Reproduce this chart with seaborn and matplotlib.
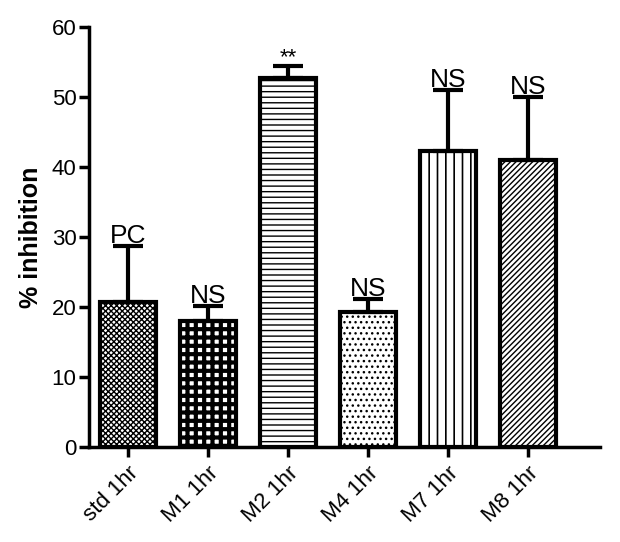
import pandas as pd
import numpy as np
import seaborn as sns
import matplotlib.pyplot as plt

groups = ['std 1hr', 'M1 1hr', 'M2 1hr', 'M4 1hr', 'M7 1hr', 'M8 1hr']
inhibition = [20.7, 18.0, 52.7, 19.3, 42.3, 41.0]
sem = [8.0, 2.2, 1.8, 1.9, 8.7, 9.0]
sig_labels = ['PC', 'NS', '**', 'NS', 'NS', 'NS']
hatches = ['xxxxxx', '++', '---', '...', '||', '//////']
hatch_widths = [1.0, 3.0, 1.0, 1.0, 1.2, 1.0]

df = pd.DataFrame({'group': groups, 'inhibition': inhibition})

sns.set_style('ticks', {'axes.edgecolor': 'black', 'text.color': 'black',
                        'xtick.color': 'black', 'ytick.color': 'black',
                        'axes.labelcolor': 'black'})
plt.rcParams['font.family'] = ['Liberation Sans', 'DejaVu Sans']
plt.rcParams['hatch.linewidth'] = 1.0

fig, ax = plt.subplots(figsize=(6.2, 5.42), dpi=100)
fig.subplots_adjust(left=0.1435, right=0.968, bottom=0.175, top=0.95)

sns.barplot(data=df, x='group', y='inhibition', color='white', errorbar=None,
            width=0.7, edgecolor='black', linewidth=3, ax=ax)

for bar, h, hw in zip(ax.patches, hatches, hatch_widths):
    bar.set_hatch(h)
    if hasattr(bar, 'set_hatch_linewidth'):
        bar.set_hatch_linewidth(hw)

x = np.arange(len(groups))
ax.errorbar(x, inhibition, yerr=[np.zeros(len(sem)), sem], fmt='none',
            ecolor='black', elinewidth=3, capsize=11, capthick=3, zorder=1)

tops = np.array(inhibition) + np.array(sem)
for xi, top, lab in zip(x, tops, sig_labels):
    size = 16 if lab == '**' else 19
    ax.text(xi, top - 0.3, lab, ha='center', va='bottom', fontsize=size)

ax.set_xlim(-0.49, 5.9)
ax.set_ylim(0, 60)
ax.set_yticks(range(0, 61, 10))
ax.set_xlabel('')
ax.set_ylabel('% inhibition', fontsize=18, fontweight='bold', labelpad=6)
ax.tick_params(axis='y', labelsize=16, width=2.5, length=7, pad=2)
ax.tick_params(axis='x', labelsize=16, width=2.5, length=7, pad=4)
plt.setp(ax.get_xticklabels(), rotation=45, ha='right', rotation_mode='anchor')

sns.despine(ax=ax)
for side in ['left', 'bottom']:
    ax.spines[side].set_linewidth(2.5)

fig.savefig('out.png', dpi=100)
